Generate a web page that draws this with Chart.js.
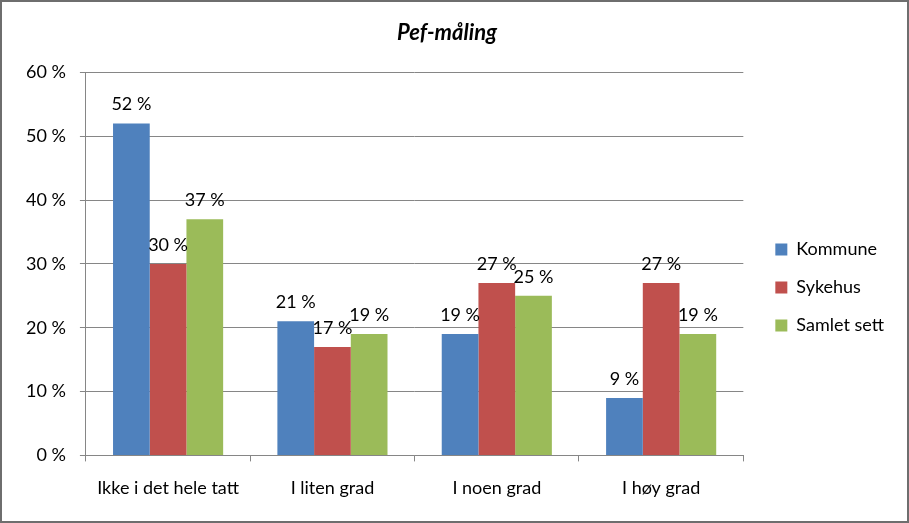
<!DOCTYPE html>
<html lang="no">
<head>
<meta charset="UTF-8">
<title>Pef-måling</title>
<style>
  html, body { margin: 0; padding: 0; background: #fff; }
  #wrap { width: 909px; height: 523px; }
</style>
</head>
<body>
<div id="wrap"><canvas id="chart" width="909" height="523"></canvas></div>
<script src="https://cdn.jsdelivr.net/npm/chart.js"></script>
<script>
// data
const categories = ['Ikke i det hele tatt', 'I liten grad', 'I noen grad', 'I høy grad'];
const seriesNames = ['Kommune', 'Sykehus', 'Samlet sett'];
const kommune = [52, 21, 19, 9];
const sykehus = [30, 17, 27, 27];
const samlet = [37, 19, 25, 19];
const yTicks = [0, 10, 20, 30, 40, 50, 60];

const colors = ['#4F81BD', '#C0504D', '#9BBB59'];
const fontFamily = 'Lato, "Open Sans", sans-serif';
const gridColor = '#868686';

// labels "52 %" above each bar
const barLabels = {
    id: 'barLabels',
    afterDatasetsDraw(chart) {
        const ctx = chart.ctx;
        ctx.save();
        ctx.font = '18px ' + fontFamily;
        ctx.fillStyle = '#000';
        ctx.textAlign = 'center';
        ctx.textBaseline = 'alphabetic';
        chart.data.datasets.forEach((ds, i) => {
            chart.getDatasetMeta(i).data.forEach((bar, j) => {
                ctx.fillText(ds.data[j] + ' %', bar.x, bar.y - 13);
            });
        });
        ctx.restore();
    }
};

// nudge the legend block away from the plot and down a bit
const legendNudge = {
    id: 'legendNudge',
    afterLayout(chart) {
        const lg = chart.legend;
        const dx = 12, dy = 24;
        lg.left += dx; lg.right += dx;
        lg.top += dy; lg.bottom += dy;
    }
};

// dark frame round the whole picture
const frame = {
    id: 'frame',
    afterDraw(chart) {
        const ctx = chart.ctx;
        ctx.save();
        ctx.strokeStyle = '#6e6e6e';
        ctx.lineWidth = 2;
        ctx.strokeRect(1, 1, chart.width - 2, chart.height - 2);
        ctx.restore();
    }
};

new Chart(document.getElementById('chart'), {
    type: 'bar',
    data: {
        labels: categories,
        datasets: [
            { label: seriesNames[0], data: kommune, backgroundColor: colors[0] },
            { label: seriesNames[1], data: sykehus, backgroundColor: colors[1] },
            { label: seriesNames[2], data: samlet, backgroundColor: colors[2] }
        ]
    },
    options: {
        responsive: false,
        animation: false,
        devicePixelRatio: 1,
        categoryPercentage: 0.67,
        barPercentage: 1,
        layout: { padding: { left: 12, right: 27, top: 12, bottom: 8 } },
        plugins: {
            title: {
                display: true,
                text: 'Pef-måling',
                color: '#000',
                font: { family: fontFamily, size: 22, weight: 'bold', style: 'italic' },
                padding: { top: 8, bottom: 26 }
            },
            legend: {
                position: 'right',
                labels: {
                    color: '#000',
                    font: { family: fontFamily, size: 18 },
                    boxWidth: 12,
                    boxHeight: 12,
                    padding: 20
                }
            },
            tooltip: { enabled: false }
        },
        scales: {
            x: {
                grid: { drawOnChartArea: false, drawTicks: true, tickLength: 6, color: gridColor, offset: true },
                border: { color: gridColor },
                ticks: { color: '#000', font: { family: fontFamily, size: 18 }, padding: 16 }
            },
            y: {
                min: 0,
                max: 60,
                afterBuildTicks(axis) { axis.ticks = yTicks.map(v => ({ value: v })); },
                grid: { color: gridColor, tickLength: 6 },
                border: { color: gridColor },
                ticks: {
                    color: '#000',
                    font: { family: fontFamily, size: 18 },
                    padding: 14,
                    callback: v => v + ' %'
                }
            }
        }
    },
    plugins: [barLabels, legendNudge, frame]
});
</script>
</body>
</html>
